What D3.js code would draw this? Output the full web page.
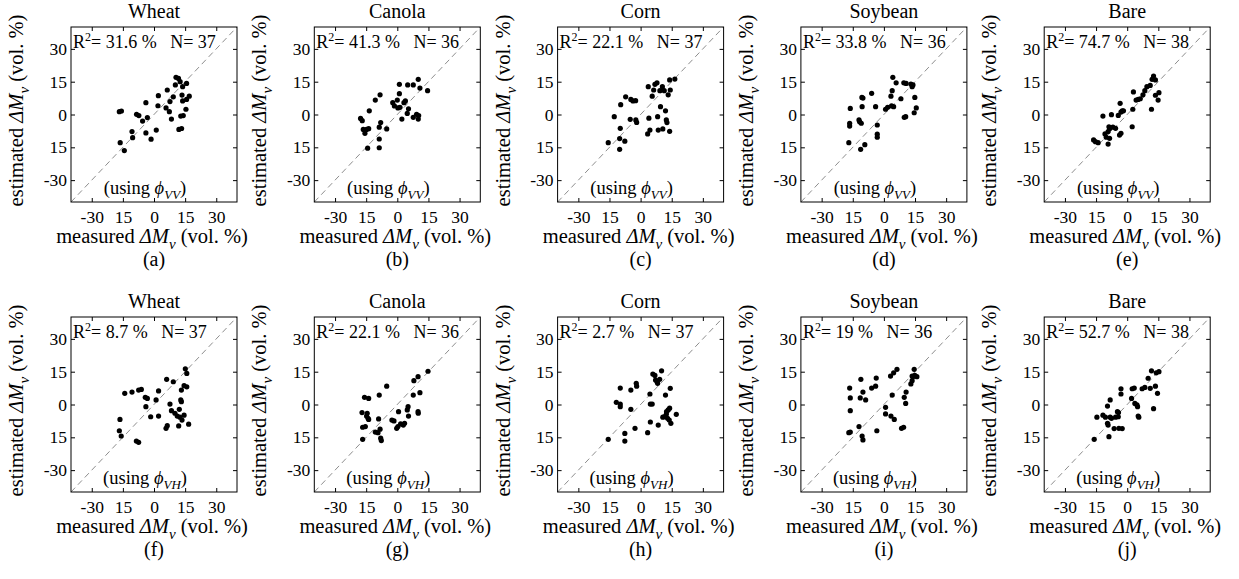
<!DOCTYPE html>
<html>
<head>
<meta charset="utf-8">
<script src="https://cdn.jsdelivr.net/npm/d3@7"></script>
<style>
  body { margin: 0; background: #fff; }
  text { font-family: "Liberation Serif", "Times New Roman", serif; fill: #000; }
</style>
</head>
<body>
<script>
// ---- data ---------------------------------------------------------------
const titles = ["Wheat", "Canola", "Corn", "Soybean", "Bare"];
const panelTags = ["(a)", "(b)", "(c)", "(d)", "(e)", "(f)", "(g)", "(h)", "(i)", "(j)"];
const r2Values = ["31.6", "41.3", "22.1", "33.8", "74.7", "8.7", "22.1", "2.7", "19", "52.7"];
const nValues = [37, 36, 37, 36, 38, 37, 36, 37, 36, 38];
const polarisations = ["VV", "VH"];
const tickValues = [-30, -15, 0, 15, 30];
const tickLabels = ["-30", "15", "0", "15", "30"];   // as printed (minus lost on -15)
const axisDomain = [-40, 40];

// [measured, estimated] in vol. %
const wheatVV = [[-16.7,1.3],[-15.7,1.6],[-16.3,-12.9],[-14.3,-16.5],[-10.6,-7.8],[-10.3,-10.6],[-8.4,0.1],[-7.3,-0.5],
  [-5.5,-3.0],[-3.9,5.4],[-3.2,-1.4],[-3.9,-8.4],[-1.4,-11.3],[1.1,-7.1],[2.1,8.6],[1.9,4.0],[6.4,11.2],[5.8,3.0],
  [7.4,1.3],[7.7,5.9],[8.4,-2.1],[9.3,8.1],[10.3,13.5],[10.6,17.0],[11.8,16.5],[12.6,15.0],[13.8,12.7],[13.5,8.9],
  [15.7,14.2],[13.8,6.2],[15.7,6.9],[17.0,8.4],[15.4,2.4],[12.9,-0.7],[14.1,-0.5],[12.0,-6.8],[13.3,-6.4]];
const canolaVV = [[-17.7,-1.8],[-16.9,-2.8],[-16.4,-6.8],[-15.6,-8.6],[-14.8,-6.8],[-13.8,-6.5],[-13.5,1.7],[-14.3,-15.4],
  [-10.6,6.6],[-8.7,-5.8],[-8.0,-3.7],[-8.3,9.0],[-8.7,-11.2],[-8.7,-15.2],[-5.1,-6.6],[-2.2,5.4],[-1.4,3.9],[0.0,6.6],
  [0.3,3.0],[1.3,3.3],[1.0,9.5],[2.2,-2.1],[3.2,5.4],[3.9,6.2],[4.8,0.5],[5.4,2.6],[7.7,-1.3],[9.3,0.1],[10.3,-0.5],
  [10.1,-2.1],[1.0,13.8],[5.0,13.5],[7.7,13.5],[10.1,16.1],[10.9,12.1],[14.6,10.9]];
const cornVV = [[-15.6,-12.9],[-12.7,-1.0],[-9.8,-6.3],[-10.1,-11.0],[-10.1,-15.9],[-9.6,4.5],[-7.6,-12.2],[-7.2,8.1],
  [-5.0,-2.2],[-4.7,6.9],[-3.7,6.2],[-2.4,6.3],[-2.3,-2.5],[-1.9,-3.6],[3.7,12.7],[4.0,-1.7],[3.4,-8.9],[4.5,-7.1],
  [5.6,8.4],[6.3,11.2],[6.9,13.8],[7.9,14.5],[8.2,-1.0],[8.5,-7.1],[9.3,10.9],[9.6,3.6],[10.5,12.7],[10.7,-6.6],
  [11.4,10.9],[12.0,1.7],[12.4,-2.5],[12.7,-3.7],[13.3,9.0],[14.0,15.8],[14.0,-7.7],[14.3,11.2],[16.5,16.2]];
const soyVV = [[-16.9,-12.9],[-16.5,-4.0],[-16.5,-5.3],[-16.2,2.8],[-11.7,-3.3],[-10.9,-4.0],[-11.2,-15.9],[-10.6,7.8],
  [-10.5,3.6],[-10.1,7.5],[-9.2,-13.8],[-5.9,9.7],[-4.0,3.6],[-3.2,-4.8],[-3.2,-9.0],[-3.2,-10.4],[0.8,2.4],[1.8,3.3],
  [3.4,8.4],[3.7,3.9],[4.0,10.9],[4.7,3.6],[4.3,17.0],[5.9,14.5],[8.2,7.2],[9.8,-1.3],[10.5,-1.0],[9.6,14.5],
  [10.7,14.2],[13.0,13.9],[13.6,12.7],[14.0,13.5],[14.9,7.8],[14.6,0.8],[15.6,3.0],[-12.0,-2.5]];
const bareVV = [[-16.2,-11.6],[-15.3,-12.4],[-14.0,-12.9],[-11.7,-0.7],[-10.7,-8.9],[-10.1,-10.4],[-9.2,-7.8],[-8.8,-5.6],
  [-8.5,-6.5],[-8.5,-10.9],[-9.2,-13.5],[-7.6,-0.1],[-6.9,-5.8],[-5.6,-6.3],[-4.3,-0.4],[-3.7,-9.4],[-3.4,5.1],[-3.0,1.1],
  [-2.4,1.7],[-1.8,1.7],[2.4,-5.6],[2.7,2.4],[3.0,10.3],[4.3,6.6],[5.3,6.9],[6.3,7.2],[7.6,9.0],[8.5,10.9],[11.1,13.3],
  [11.7,2.4],[12.0,16.1],[12.7,17.6],[13.6,15.8],[13.6,8.8],[14.9,6.6],[15.3,10.0],[9.5,12.7],[-3.0,-8.6]];
const wheatVH = [[-16.4,-6.8],[-16.7,-12.0],[-15.8,-14.4],[-14.1,5.1],[-10.6,5.7],[-7.4,6.6],[-6.1,6.9],[-8.5,-16.7],
  [-7.4,-17.3],[-4.2,3.3],[-3.2,2.8],[-3.9,-1.0],[-1.6,-5.6],[1.0,2.1],[2.2,-5.3],[2.2,6.2],[5.8,-10.9],[6.4,-9.7],
  [6.1,11.5],[7.7,0.2],[8.4,-2.8],[9.3,10.4],[10.1,-4.0],[11.2,-5.3],[12.2,-2.2],[12.5,-5.8],[12.9,2.1],[13.2,1.3],
  [11.9,-9.8],[13.5,-7.1],[13.2,6.6],[14.5,8.6],[15.1,16.3],[15.8,14.2],[14.5,-4.9],[16.7,-9.0],[15.8,8.1]];
const canolaVH = [[-16.7,-15.9],[-16.7,-10.4],[-15.4,-10.1],[-17.0,-3.7],[-14.8,-5.3],[-14.1,-6.3],[-14.5,-4.0],[-15.8,3.3],
  [-13.8,2.8],[-8.7,4.3],[-9.0,-6.6],[-10.6,-12.6],[-8.3,-11.3],[-8.0,-15.4],[-7.7,-16.5],[-5.1,8.4],[-2.6,-7.1],[-1.6,-7.5],
  [-0.3,-10.9],[0.3,-10.1],[0.6,-3.3],[1.6,-8.9],[2.9,-9.4],[3.5,-8.6],[4.8,-2.5],[5.2,-1.0],[5.4,-5.3],[7.7,4.3],
  [8.0,10.9],[10.0,-3.3],[10.1,-4.0],[10.0,12.7],[10.9,5.4],[14.8,15.2],[-13.8,-6.8],[-9.3,-12.9]];
const cornVH = [[-15.6,-15.9],[-9.8,7.5],[-11.7,1.0],[-9.8,0.2],[-9.8,-1.0],[-7.6,-13.2],[-7.6,-16.7],[-4.7,6.6],
  [-4.7,-2.2],[-2.1,9.7],[-1.9,8.4],[-2.7,-10.9],[3.4,-12.9],[4.5,4.8],[4.7,0.2],[5.6,0.2],[4.7,-8.0],[5.9,13.9],
  [6.9,13.3],[7.2,11.2],[7.9,10.4],[8.2,9.7],[9.2,11.5],[10.1,15.4],[8.5,-9.4],[12.0,4.3],[11.4,-5.6],[12.4,-4.5],
  [12.5,-3.3],[13.0,-6.3],[13.3,-2.5],[14.0,-1.7],[14.3,7.4],[13.8,-7.1],[14.6,-8.6],[17.2,-4.5],[10.7,-5.8]];
const soyVH = [[-16.9,-12.9],[-16.2,-12.6],[-16.5,7.5],[-16.2,3.0],[-16.2,-2.8],[-12.0,-10.1],[-11.1,11.5],[-11.4,3.0],
  [-10.1,5.7],[-10.5,-14.4],[-10.1,-16.2],[-8.8,2.1],[-5.9,7.5],[-4.0,8.4],[-3.7,12.1],[-3.4,-12.0],[0.8,-1.3],[0.8,-4.3],
  [3.2,13.0],[4.0,4.3],[3.4,-5.3],[4.7,14.5],[5.0,-6.8],[6.3,16.1],[8.5,-10.9],[9.5,-10.4],[9.8,3.3],[10.5,0.5],
  [10.7,5.7],[13.0,9.4],[13.6,13.0],[14.6,16.1],[14.9,13.3],[15.9,12.7],[14.0,12.7],[13.6,10.9]];
const bareVH = [[-15.9,-15.9],[-14.6,-5.8],[-11.7,-4.9],[-10.5,-5.8],[-9.5,-0.7],[-9.5,-8.6],[-9.2,-9.4],[-8.8,-14.7],
  [-8.2,2.1],[-8.2,-5.8],[-7.6,-6.3],[-6.3,-11.0],[-5.6,-5.8],[-4.7,-3.3],[-4.3,-5.6],[-4.2,-3.7],[-4.0,-10.9],[-3.0,7.2],
  [-3.0,4.8],[-2.4,-11.0],[2.1,2.8],[2.4,7.2],[3.4,7.5],[3.7,0.5],[4.7,-0.2],[5.0,-1.0],[5.3,-5.3],[5.6,-5.8],
  [7.2,7.2],[8.5,7.8],[10.1,12.0],[11.1,7.4],[11.7,15.4],[12.7,-1.9],[13.6,8.4],[14.0,14.5],[15.3,15.0],[14.6,5.1]];

const panels = [wheatVV, canolaVV, cornVV, soyVV, bareVV, wheatVH, canolaVH, cornVH, soyVH, bareVH];

// ---- layout ----------------------------------------------------------------
const W = 1239, H = 579;
const boxW = 166, boxH = 175;
const colLeft0 = 71, colStep = 243.3;
const rowTops = [27, 317];

const svg = d3.select("body").append("svg").attr("width", W).attr("height", H);

const x = d3.scaleLinear().domain(axisDomain).range([0, boxW]);
const y = d3.scaleLinear().domain(axisDomain).range([boxH, 0]);
const fmt = d => tickLabels[tickValues.indexOf(d)];

panels.forEach((pts, k) => {
  const row = Math.floor(k / 5), col = k % 5;
  const L = colLeft0 + col * colStep, T = rowTops[row];
  const g = svg.append("g").attr("transform", `translate(${L},${T})`);

  // 1:1 line
  g.append("line")
    .attr("x1", x(axisDomain[0])).attr("y1", y(axisDomain[0]))
    .attr("x2", x(axisDomain[1])).attr("y2", y(axisDomain[1]))
    .attr("stroke", "#808080").attr("stroke-width", 0.9)
    .attr("stroke-dasharray", "6,4");

  // points
  g.selectAll("circle.pt").data(pts).join("circle")
    .attr("class", "pt")
    .attr("cx", d => x(d[0])).attr("cy", d => y(d[1]))
    .attr("r", 2.6).attr("fill", "#000");

  // axes, ticks inward on all four sides
  const styleAxis = sel => {
    sel.select(".domain").remove();
    sel.attr("font-family", "Liberation Serif, Times New Roman, serif").attr("font-size", 17.5);
    sel.selectAll("line").attr("stroke-width", 1);
  };
  g.append("g").attr("transform", `translate(0,${boxH})`)
    .call(d3.axisBottom(x).tickValues(tickValues).tickSize(-4).tickPadding(9).tickFormat(fmt))
    .call(styleAxis);
  g.append("g")
    .call(d3.axisLeft(y).tickValues(tickValues).tickSize(-4).tickPadding(4).tickFormat(fmt))
    .call(styleAxis);
  g.append("g")
    .call(d3.axisTop(x).tickValues(tickValues).tickSize(-4).tickFormat(""))
    .call(styleAxis);
  g.append("g").attr("transform", `translate(${boxW},0)`)
    .call(d3.axisRight(y).tickValues(tickValues).tickSize(-4).tickFormat(""))
    .call(styleAxis);

  g.append("rect").attr("width", boxW).attr("height", boxH)
    .attr("fill", "none").attr("stroke", "#000").attr("stroke-width", 1);

  // title
  g.append("text").attr("x", boxW / 2).attr("y", -9)
    .attr("text-anchor", "middle").style("font-size", "20px")
    .text(titles[col]);

  // R² / N annotation
  const ann = g.append("text").attr("x", 2).attr("y", 21)
    .attr("xml:space", "preserve").style("white-space", "pre")
    .style("font-size", "18px");
  ann.append("tspan").text("R");
  ann.append("tspan").attr("dy", -7).style("font-size", "12px").text("2");
  ann.append("tspan").attr("dy", 7).text(`= ${r2Values[k]} %   N= ${nValues[k]}`);

  // (using phi)
  const pol = polarisations[row];
  const us = g.append("text").attr("x", 74).attr("y", boxH - 8)
    .attr("text-anchor", "middle").style("font-size", "18.5px");
  us.append("tspan").text("(using ");
  us.append("tspan").style("font-style", "italic").text("\u03D5");
  us.append("tspan").attr("dy", 5).style("font-style", "italic").style("font-size", "13px").text(pol);
  us.append("tspan").attr("dy", -5).text(")");

  // x label
  const xl = g.append("text").attr("x", boxW / 2 - 2).attr("y", boxH + 41)
    .attr("text-anchor", "middle").style("font-size", "20.5px");
  xl.append("tspan").text("measured ");
  xl.append("tspan").style("font-style", "italic").text("\u0394M");
  xl.append("tspan").attr("dy", 6).style("font-style", "italic").style("font-size", "15px").text("v");
  xl.append("tspan").attr("dy", -6).text(" (vol. %)");

  // y label
  const yl = g.append("text")
    .attr("transform", `translate(-48,${boxH / 2 - 4}) rotate(-90)`)
    .attr("text-anchor", "middle").style("font-size", "20.5px");
  yl.append("tspan").text("estimated ");
  yl.append("tspan").style("font-style", "italic").text("\u0394M");
  yl.append("tspan").attr("dy", 6).style("font-style", "italic").style("font-size", "15px").text("v");
  yl.append("tspan").attr("dy", -6).text(" (vol. %)");

  // panel tag
  g.append("text").attr("x", boxW / 2).attr("y", boxH + 64)
    .attr("text-anchor", "middle").style("font-size", "20px")
    .text(panelTags[k]);
});
</script>
</body>
</html>
